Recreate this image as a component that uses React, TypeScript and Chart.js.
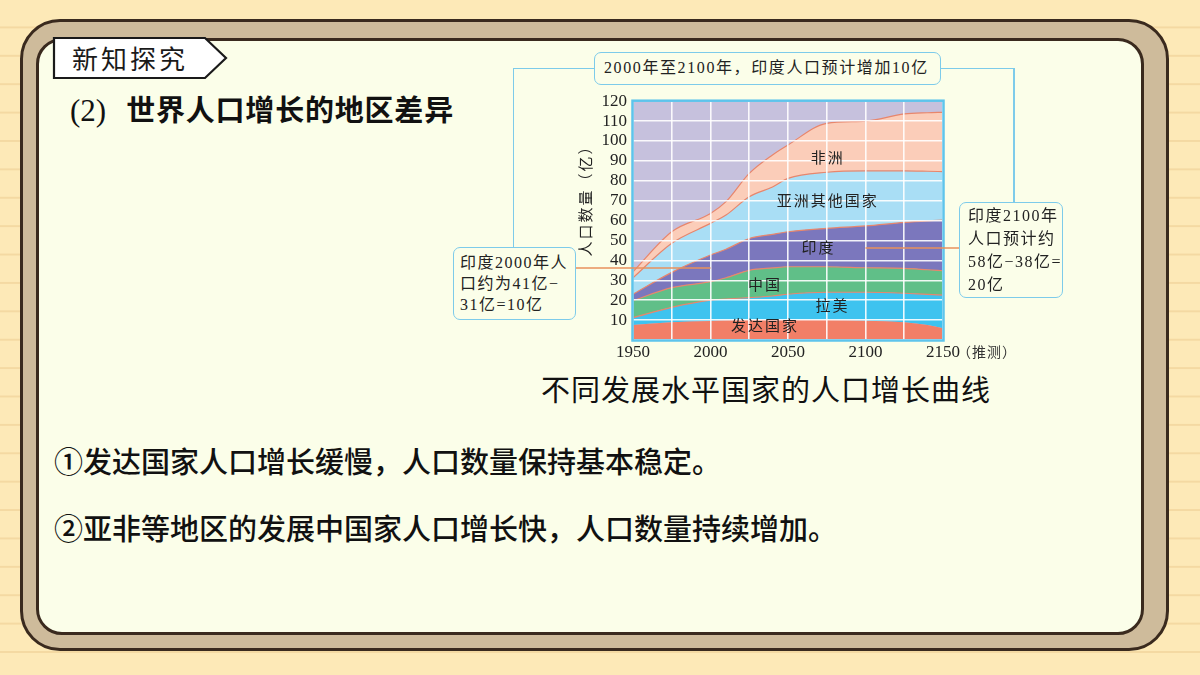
import React, { useEffect, useRef } from "react";
import { Chart, registerables } from "chart.js";

Chart.register(...registerables);

// ---- data (upper edge of each stacked band, 亿人) ----
const years = [1950, 1975, 2000, 2010, 2025, 2040, 2050, 2075, 2100, 2125, 2140, 2150];
const developedTop = [7.5, 8.9, 9.5, 9.9, 10, 10, 10, 10, 9.7, 8.9, 7.5, 5.9];
const latinAmericaTop = [11.2, 16.4, 20, 20.6, 21.3, 22.1, 23, 24, 24, 23.5, 22.9, 22.6];
const chinaTop = [19.8, 26.3, 29.3, 31.3, 35, 36.2, 36.8, 36.8, 36.3, 36, 35.3, 34.8];
const indiaTop = [23, 34, 42.7, 45.6, 51, 53.1, 54.4, 56.1, 57.3, 59.1, 59.9, 60.3];
const otherAsiaTop = [31.3, 48.6, 58.6, 62.8, 72, 76.9, 81.2, 84.3, 85, 85, 84.8, 84.6];
const africaTop = [34.3, 54.4, 63.6, 69.5, 83.7, 93, 98, 108.9, 110, 113.6, 114.2, 114.4];

const regionNames = ["发达国家", "拉美", "中国", "印度", "亚洲其他国家", "非洲"];
const xTickYears = [1950, 2000, 2050, 2100, 2150];
const yTickValues = [10, 20, 30, 40, 50, 60, 70, 80, 90, 100, 110, 120];

// ---- styles ----
const bandColors = ["#f27f67", "#3ec3ef", "#60bf88", "#7b77bd", "#a9def5", "#fbcdb9"];
const PLOT_BG = "#c6c1dd";
const EDGE = "#e8866c";
const SERIF = "'Liberation Serif', 'Noto Sans CJK SC', serif";
const CJK = "'Noto Sans CJK SC', sans-serif";

// label anchors in data space (year, value)
const labelAnchors: [number, number][] = [
  [2034.5, 7.5],
  [2078, 17.6],
  [2034.5, 28.1],
  [2069, 46.7],
  [2075, 70],
  [2075, 92],
];

const tops = [developedTop, latinAmericaTop, chinaTop, indiaTop, otherAsiaTop, africaTop];

const CANVAS_LEFT = 540;
const CANVAS_TOP = 85;

const decorPlugin = {
  id: "decor",
  beforeDraw(chart: any) {
    const { ctx, chartArea: a } = chart;
    ctx.save();
    ctx.fillStyle = PLOT_BG;
    ctx.fillRect(a.left, a.top, a.right - a.left, a.bottom - a.top);
    ctx.restore();
  },
  afterDraw(chart: any) {
    const { ctx, chartArea: a, scales } = chart;
    const xs = scales.x;
    const ys = scales.y;
    ctx.save();
    // plot frame
    ctx.strokeStyle = "#5ec4ec";
    ctx.lineWidth = 2.5;
    ctx.strokeRect(a.left - 0.5, a.top - 0.5, a.right - a.left + 1, a.bottom - a.top + 1);

    // region labels
    ctx.fillStyle = "#222";
    ctx.font = `400 15px ${CJK}`;
    ctx.textAlign = "center";
    ctx.textBaseline = "middle";
    (ctx as any).letterSpacing = "2px";
    regionNames.forEach((name, i) => {
      const [yr, v] = labelAnchors[i];
      ctx.fillText(name, xs.getPixelForValue(yr) + 1, ys.getPixelForValue(v));
    });

    // y-axis title (rotated)
    ctx.save();
    ctx.translate(585 - CANVAS_LEFT, 197 - CANVAS_TOP);
    ctx.rotate(-Math.PI / 2);
    ctx.font = `400 15px ${CJK}`;
    (ctx as any).letterSpacing = "2px";
    ctx.fillText("人口数量（亿）", 0, 0);
    ctx.restore();

    // (推测)
    (ctx as any).letterSpacing = "1px";
    ctx.font = `400 14px ${CJK}`;
    ctx.textAlign = "left";
    ctx.fillStyle = "#333";
    ctx.fillText("（推测）", xs.getPixelForValue(2150) + 14, a.bottom + 12);

    // orange connectors
    ctx.strokeStyle = "#e8915c";
    ctx.lineWidth = 1.5;
    const yl = ys.getPixelForValue(36.2);
    ctx.beginPath();
    ctx.moveTo(575 - CANVAS_LEFT, yl);
    ctx.lineTo(xs.getPixelForValue(2000), yl);
    ctx.stroke();
    const yr2 = ys.getPixelForValue(46.2);
    ctx.beginPath();
    ctx.moveTo(xs.getPixelForValue(2100), yr2);
    ctx.lineTo(960 - CANVAS_LEFT, yr2);
    ctx.stroke();
    ctx.restore();
  },
};

function buildConfig(): any {
  const datasets = tops.map((arr, i) => ({
    label: regionNames[i],
    data: years.map((yr, k) => ({ x: yr, y: arr[k] })),
    backgroundColor: bandColors[i],
    borderColor: i === 0 ? bandColors[0] : EDGE,
    borderWidth: i === 0 ? 0 : 1.2,
    fill: i === 0 ? "origin" : "-1",
    pointRadius: 0,
    cubicInterpolationMode: "monotone",
  }));
  return {
    type: "line",
    data: { datasets },
    plugins: [decorPlugin],
    options: {
      animation: false,
      responsive: false,
      maintainAspectRatio: false,
      layout: { padding: { top: 0, right: 97, left: 0, bottom: 0 } },
      plugins: { legend: { display: false }, tooltip: { enabled: false } },
      scales: {
        x: {
          type: "linear",
          min: 1950,
          max: 2150,
          border: { display: false },
          grid: { color: "rgba(255,255,255,0.9)", lineWidth: 1.6, drawTicks: false, z: 1 },
          ticks: {
            stepSize: 25,
            autoSkip: false,
            maxRotation: 0,
            padding: 2,
            color: "#222",
            font: { family: SERIF, size: 17 },
            callback: (v: number) => (xTickYears.includes(v) ? String(v) : ""),
          },
          afterFit: (s: any) => {
            s.height = 25;
          },
        },
        y: {
          min: 0,
          max: 120,
          border: { display: false },
          grid: { color: "rgba(255,255,255,0.9)", lineWidth: 1.6, drawTicks: false, z: 1 },
          ticks: {
            stepSize: 10,
            autoSkip: false,
            padding: 6,
            color: "#222",
            font: { family: SERIF, size: 17 },
            callback: (v: number) => (yTickValues.includes(v) ? String(v) : ""),
          },
          afterFit: (s: any) => {
            s.width = 93;
          },
        },
      },
    },
  };
}

const abs = (l: number, t: number, w: number, h: number): React.CSSProperties => ({
  position: "absolute",
  left: l,
  top: t,
  width: w,
  height: h,
  boxSizing: "border-box",
});

const boxText: React.CSSProperties = {
  fontFamily: SERIF,
  fontSize: 16,
  color: "#222",
  letterSpacing: 1.5,
  border: "1.5px solid #7dcbea",
  borderRadius: 7,
  background: "#fbfee9",
  whiteSpace: "nowrap",
};

const LINE = "#7dcbea";

export default function App() {
  const ref = useRef<HTMLCanvasElement>(null);
  useEffect(() => {
    const chart = new Chart(ref.current as HTMLCanvasElement, buildConfig());
    return () => chart.destroy();
  }, []);

  return (
    <div
      style={{
        position: "fixed",
        left: 0,
        top: 0,
        width: 1200,
        height: 675,
        overflow: "hidden",
        backgroundColor: "#fde9b7",
        backgroundImage:
          "linear-gradient(to bottom, transparent 0px, transparent 26px, #f4d9a2 26px, #f4d9a2 28.4px)",
        backgroundSize: "100% 28.4px",
        backgroundPosition: "0 0",
        fontFamily: CJK,
      }}
    >
      {/* outer frame */}
      <div
        style={{
          ...abs(20, 19, 1149, 632),
          border: "3px solid #3a2a1e",
          borderRadius: 40,
          background: "#cebb9b",
        }}
      />
      {/* inner panel */}
      <div
        style={{
          ...abs(36, 38, 1108, 597),
          border: "3px solid #3a2a1e",
          borderRadius: 26,
          background: "#fbfee9",
        }}
      />

      {/* tag */}
      <svg style={{ position: "absolute", left: 0, top: 0 }} width={300} height={100}>
        <polygon
          points="54,38 205,38 226,58 205,78 54,78"
          fill="#ffffff"
          stroke="#1a1a1a"
          strokeWidth={2.2}
        />
      </svg>
      <div
        style={{
          position: "absolute",
          left: 72,
          top: 40,
          height: 36,
          lineHeight: "36px",
          fontSize: 26,
          letterSpacing: 3,
          color: "#1a1a1a",
          fontFamily: CJK,
          whiteSpace: "nowrap",
        }}
      >
        新知探究
      </div>

      {/* subtitle */}
      <div
        style={{
          position: "absolute",
          left: 70,
          top: 90,
          height: 36,
          lineHeight: "36px",
          whiteSpace: "nowrap",
          color: "#111",
        }}
      >
        <span style={{ fontFamily: SERIF, fontSize: 31 }}>(2)</span>
        <span
          style={{
            fontFamily: CJK,
            fontWeight: 700,
            fontSize: 29,
            letterSpacing: 0.8,
            marginLeft: 20,
          }}
        >
          世界人口增长的地区差异
        </span>
      </div>

      {/* connectors */}
      <div style={{ ...abs(513, 67.5, 81, 1.5), background: LINE }} />
      <div style={{ ...abs(512.5, 68, 1.5, 180), background: LINE }} />
      <div style={{ ...abs(940, 67.5, 74, 1.5), background: LINE }} />
      <div style={{ ...abs(1013, 68, 1.5, 135), background: LINE }} />

      {/* chart */}
      <canvas
        ref={ref}
        width={500}
        height={280}
        style={{ position: "absolute", left: CANVAS_LEFT, top: CANVAS_TOP, width: 500, height: 280 }}
      />

      {/* annotation boxes */}
      <div
        style={{
          ...abs(594, 52, 347, 33),
          ...boxText,
          letterSpacing: 1.6,
          lineHeight: "30px",
          paddingLeft: 9,
        }}
      >
        2000年至2100年，印度人口预计增加10亿
      </div>
      <div
        style={{
          ...abs(453, 247, 123, 73),
          ...boxText,
          lineHeight: "21px",
          padding: "4px 0 0 6px",
        }}
      >
        印度2000年人
        <br />
        口约为41亿−
        <br />
        31亿=10亿
      </div>
      <div
        style={{
          ...abs(959, 202, 104, 96),
          ...boxText,
          lineHeight: "23px",
          padding: "1px 0 0 8px",
        }}
      >
        印度2100年
        <br />
        人口预计约
        <br />
        58亿−38亿=
        <br />
        20亿
      </div>

      {/* caption */}
      <div
        style={{
          position: "absolute",
          left: 466,
          width: 600,
          top: 370,
          height: 36,
          lineHeight: "36px",
          textAlign: "center",
          fontSize: 29,
          letterSpacing: 1,
          color: "#111",
          whiteSpace: "nowrap",
        }}
      >
        不同发展水平国家的人口增长曲线
      </div>

      {/* bullets */}
      <div
        style={{
          position: "absolute",
          left: 54,
          top: 441,
          lineHeight: "38px",
          fontSize: 29,
          fontWeight: 500,
          color: "#111",
          whiteSpace: "nowrap",
        }}
      >
        ①发达国家人口增长缓慢，人口数量保持基本稳定。
      </div>
      <div
        style={{
          position: "absolute",
          left: 54,
          top: 508,
          lineHeight: "38px",
          fontSize: 29,
          fontWeight: 500,
          color: "#111",
          whiteSpace: "nowrap",
        }}
      >
        ②亚非等地区的发展中国家人口增长快，人口数量持续增加。
      </div>
    </div>
  );
}
